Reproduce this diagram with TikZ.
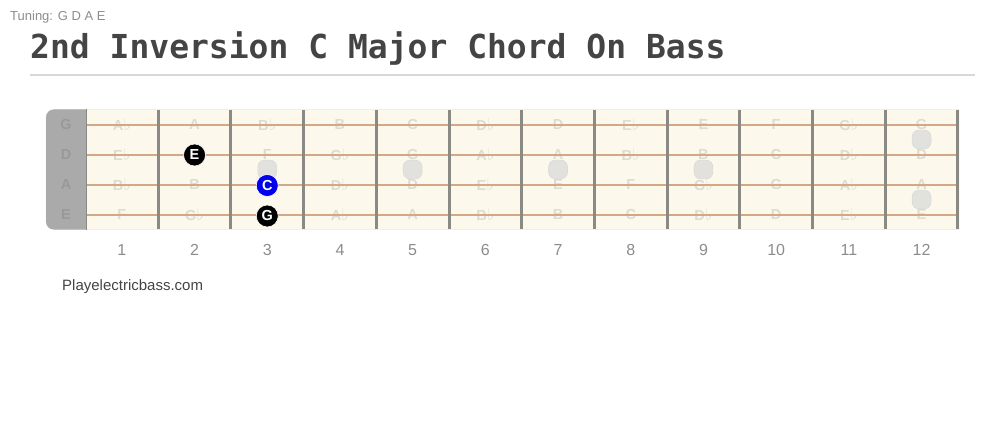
\documentclass[tikz,border=0pt]{standalone}
\usepackage{fontspec}
\setmainfont{Liberation Sans}
\newfontfamily\titlefont{DejaVu Sans Mono}
\newfontfamily\flatfont{DejaVu Sans}
\usetikzlibrary{positioning}

\definecolor{board}{HTML}{FDF8EC}
\definecolor{boardedge}{HTML}{D8D8D8}
\definecolor{stringcol}{HTML}{D2A886}
\definecolor{fretcol}{HTML}{8A8984}
\definecolor{nutgray}{HTML}{AAAAAA}
\definecolor{notegray}{HTML}{DFDBD2}
\definecolor{nutletter}{HTML}{999999}
\definecolor{inlaygray}{HTML}{E1E1DE}
\definecolor{inlayedge}{HTML}{D6D6D2}
\definecolor{numgray}{HTML}{8C8C8C}
\definecolor{titlegray}{HTML}{444444}
\definecolor{bluedot}{HTML}{0000EE}

\newcommand{\flt}{{\flatfont\fontsize{16}{16}\selectfont ♭}}

\begin{document}
\begin{tikzpicture}[x=1pt, y=-1pt,
  notename/.style={text=notegray, font=\bfseries\fontsize{14.5}{14.5}\selectfont, inner sep=0pt},
  nutname/.style={text=nutletter, font=\bfseries\fontsize{14.5}{14.5}\selectfont, inner sep=0pt},
  fretnum/.style={text=numgray, font=\fontsize{16}{16}\selectfont, inner sep=0pt},
  inlay/.style={fill=inlaygray, draw=inlayedge, rounded corners=7pt, minimum size=19pt, inner sep=0pt},
  chorddot/.style={circle, fill=black, draw=white, line width=0.6pt, minimum size=22pt, inner sep=0pt,
    text=white, font=\bfseries\fontsize{14.5}{14.5}\selectfont}]

        \useasboundingbox (0,0) rectangle (1005,428);

        % heading and title
        \node[anchor=base west, inner sep=0pt, text=numgray, font=\fontsize{13}{13}\selectfont] (tuning) at (10,20.5) {Tuning: G D A E};
        \node[anchor=base west, inner sep=0pt, text=titlegray, font=\titlefont\bfseries\fontsize{33}{33}\selectfont] (title) at (30,59) {2nd Inversion C Major Chord On Bass};
        \draw[boardedge, line width=1.5pt] (30,75) -- (975,75);

        % the board and the nut
        \draw[fill=board, draw=boardedge] (959,109.5) [rounded corners=8pt] -- (46,109.5) -- (46,229.5) [sharp corners] -- (959,229.5) -- cycle;
        \fill[nutgray] (86,109.5) [rounded corners=8pt] -- (46,109.5) -- (46,229.5) [sharp corners] -- (86,229.5) -- cycle;

        % note names, one string at a time
        \foreach \n [count=\i] in {A\flt,A,B\flt,B,C,D\flt,D,E\flt,E,F,G\flt,G}
                \node[notename] (g\i) at ({85.5+72.7*(\i-0.5)},125) {\n};
        \foreach \n [count=\i] in {E\flt,E,F,G\flt,G,A\flt,A,B\flt,B,C,D\flt,D}
                \node[notename] (d\i) at ({85.5+72.7*(\i-0.5)},155) {\n};
        \foreach \n [count=\i] in {B\flt,B,C,D\flt,D,E\flt,E,F,G\flt,G,A\flt,A}
                \node[notename] (a\i) at ({85.5+72.7*(\i-0.5)},185) {\n};
        \foreach \n [count=\i] in {F,G\flt,G,A\flt,A,B\flt,B,C,D\flt,D,E\flt,E}
                \node[notename] (e\i) at ({85.5+72.7*(\i-0.5)},215) {\n};

        % strings with their open names on the nut
        \foreach \s/\y in {G/124.5, D/154.5, A/184.5, E/214.5} {
                \node[nutname] (open\s) at (66,\y) {\s};
                \draw[stringcol, line width=2pt] (86,\y) -- (958,\y);
        }

        % frets and fret numbers
        \draw[fretcol, line width=0.8pt] (86,109.5) -- (86,229.5);
        \foreach \i in {1,...,12} {
                \draw[fretcol, line width=3pt] ({85.5+72.7*\i},110) -- ({85.5+72.7*\i},229);
                \node[fretnum] (num\i) at ({85.5+72.7*(\i-0.5)},250) {\i};
        }

        % position markers
        \foreach \i in {3,5,7,9}
                \node[inlay] (mark\i) at ({85.5+72.7*(\i-0.5)},169.5) {};
        \node[inlay] (mark12a) at ({85.5+72.7*11.5},139.5) {};
        \node[inlay] (mark12b) at ({85.5+72.7*11.5},199.5) {};

        % the chord
        \node[chorddot] (dotE) at ({85.5+72.7*1.5},155) {E};
        \node[chorddot, fill=bluedot] (dotC) at ({85.5+72.7*2.5},185.5) {C};
        \node[chorddot] (dotG) at ({85.5+72.7*2.5},216) {G};

        \node[anchor=base west, inner sep=0pt, text=titlegray, font=\fontsize{15}{15}\selectfont] (site) at (62,290) {Playelectricbass.com};

\end{tikzpicture}
\end{document}
